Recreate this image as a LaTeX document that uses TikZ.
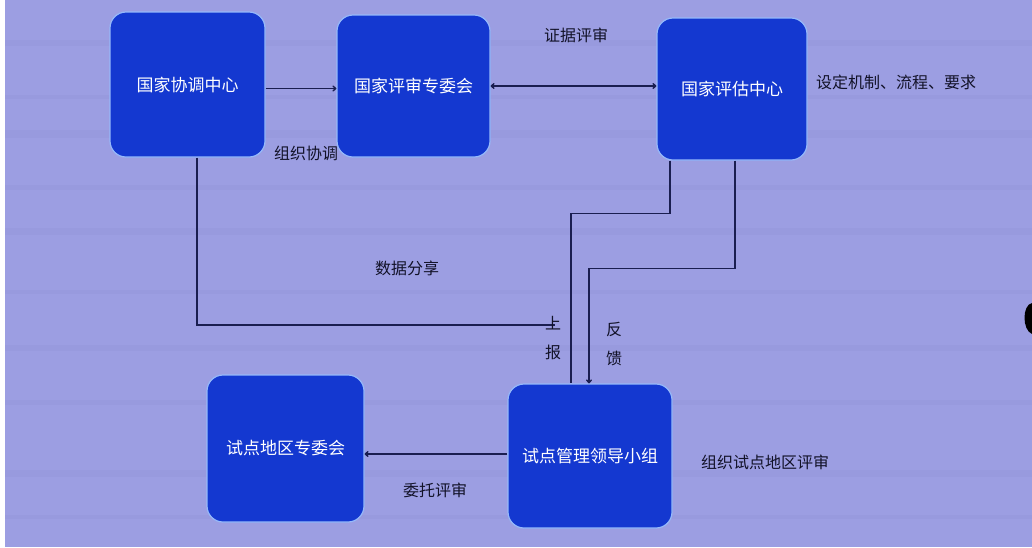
\documentclass[tikz,border=0pt]{standalone}
\usepackage{fontspec}
\newfontfamily\cjk{Noto Sans CJK SC}
\usetikzlibrary{arrows.meta}
\definecolor{bgc}{RGB}{156,158,226}
\definecolor{bandc}{RGB}{146,148,214}
\definecolor{boxc}{RGB}{20,56,208}
\definecolor{glowc}{RGB}{150,185,250}
\definecolor{linec}{RGB}{26,30,80}
\definecolor{txtc}{RGB}{18,18,40}
\tikzset{
  unit/.style={rounded corners=16pt, fill=boxc, draw=glowc, line width=1.2pt,
    text=white, font=\cjk\fontsize{17}{20}\selectfont, inner sep=0pt},
  lbl/.style={text=txtc, font=\cjk\fontsize{16}{19}\selectfont, inner sep=0pt},
  vlbl/.style={lbl, align=center, font=\cjk\fontsize{16}{29}\selectfont},
  conn/.style={draw=linec, line width=1.4pt},
  tip/.style={-{To[length=4pt,width=6pt]}},
}
\begin{document}
\begin{tikzpicture}[x=1pt,y=-1pt]
\useasboundingbox (0,0) rectangle (1032,547);
\fill[white] (0,0) rectangle (1032,547);
\fill[bgc] (5,0) rectangle (1032,547);
\foreach \y/\h in {40/6, 95/4, 130/8, 185/5, 228/7, 290/4, 345/6, 400/5, 470/7, 515/4}
  \fill[bandc, opacity=0.3] (5,\y) rectangle (1032,\y+\h);
\fill[black] (1032,303) .. controls (1022,305) and (1022,330) .. (1032,334) -- cycle;

\node[unit, minimum width=155pt, minimum height=145pt] (b1) at (187.5,84.5) {国家协调中心};
\node[unit, minimum width=153pt, minimum height=142pt] (b2) at (413.5,86) {国家评审专委会};
\node[unit, minimum width=150pt, minimum height=142pt] (b3) at (732,89) {国家评估中心};
\node[unit, minimum width=157pt, minimum height=147pt] (b4) at (285.5,448.5) {试点地区专委会};
\node[unit, minimum width=164pt, minimum height=144pt] (b5) at (590,456) {试点管理领导小组};

\draw[conn, tip] ([yshift=-4pt]b1.east) -- ([yshift=-4pt]b1.east -| b2.west);
\draw[conn, {To[length=4pt,width=6pt]}-{To[length=4pt,width=6pt]}] (b2.east) -- (b2.east -| b3.west);
\coordinate (sb) at (555,325);
\draw[conn] ([xshift=9.5pt]b1.south) |- (sb);
\draw[conn] ([xshift=-62pt]b3.south) -- ++(0,53) -| ([xshift=-19pt]b5.north);
\draw[conn, tip] ([xshift=3pt]b3.south) -- ++(0,108) -| ([xshift=-1pt]b5.north);
\draw[conn, tip] ([yshift=2pt]b5.west) -- ([yshift=2pt]b5.west -| b4.east);

\node[lbl] (l1) at (576,35) {证据评审};
\node[lbl] (l2) at (896,82) {设定机制、流程、要求};
\node[lbl] (l3) at (306,153) {组织协调};
\node[lbl] (l4) at (407,268) {数据分享};
\node[vlbl] (l5) at (553,338) {上\\报};
\node[vlbl] (l6) at (614,344) {反\\馈};
\node[lbl] (l7) at (765,462) {组织试点地区评审};
\node[lbl] (l8) at (435,490) {委托评审};
\end{tikzpicture}
\end{document}
